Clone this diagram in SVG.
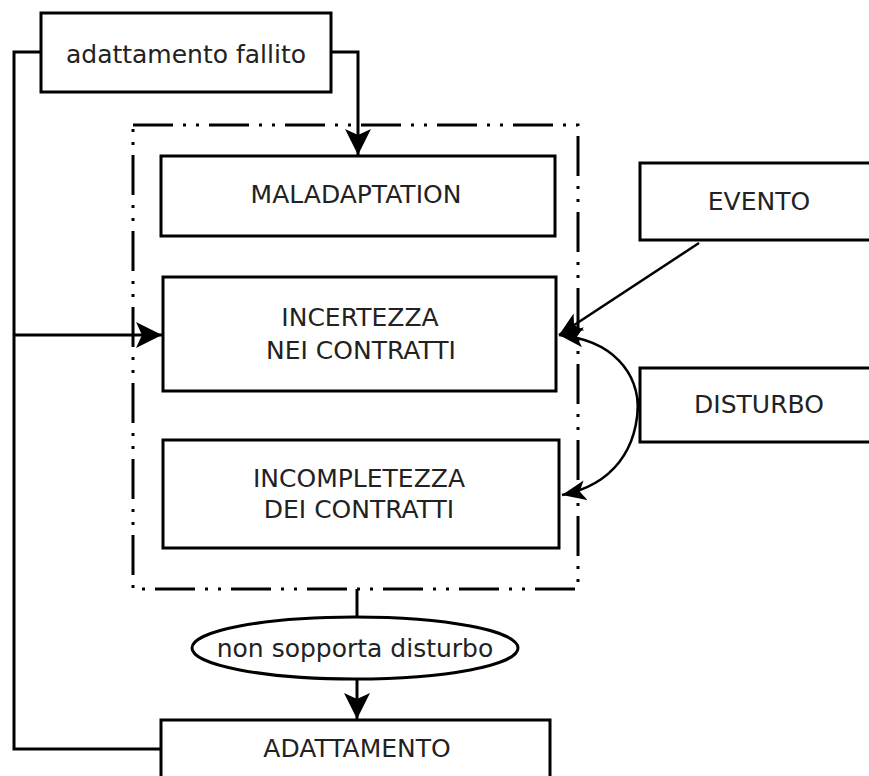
<svg xmlns="http://www.w3.org/2000/svg" width="869" height="776" viewBox="0 0 869 776">
<style>
.box{fill:#fff;stroke:#000;stroke-width:3}
.lbl{font-family:"DejaVu Sans",sans-serif;font-size:25px;fill:#222;text-anchor:middle}
.conn{fill:none;stroke:#000;stroke-width:3}
.thin{fill:none;stroke:#000;stroke-width:2.5}
.frame{fill:none;stroke:#000;stroke-width:3;stroke-dasharray:40 10 3 10 3 10}
</style>
<defs>
<marker id="ah" markerUnits="userSpaceOnUse" markerWidth="28" markerHeight="28" refX="26" refY="13" orient="auto" viewBox="0 0 28 28">
<path d="M0,0 L26,13 L0,26 L6,13 z" fill="#000"/>
</marker>
<marker id="ahs" markerUnits="userSpaceOnUse" markerWidth="26" markerHeight="22" refX="24" refY="10" orient="auto" viewBox="0 0 26 22">
<path d="M0,0 L24,10 L0,20 L6,10 z" fill="#000"/>
</marker>
</defs>
<g id="connectors">
<polyline class="conn" points="41,52 14,52 14,749 161,749"/>
<line class="conn" x1="14" y1="335" x2="162" y2="335" marker-end="url(#ah)"/>
<polyline class="conn" points="331,52 358,52 358,155" marker-end="url(#ah)"/>
<line class="conn" x1="357" y1="589" x2="357" y2="617"/>
<line class="conn" x1="357" y1="680" x2="357" y2="719" marker-end="url(#ah)"/>
<line class="thin" x1="699" y1="243" x2="559" y2="335" marker-end="url(#ahs)"/>
<path class="thin" d="M638,412 C639,372 612,340 559,335" marker-end="url(#ahs)"/>
<path class="thin" d="M638,398 C639,450 612,485 562,495" marker-end="url(#ahs)"/>
</g>
<g id="frame">
<rect class="frame" x="133" y="125" width="445" height="464"/>
</g>
<g id="adattamento-fallito">
<rect class="box" x="41" y="13" width="290" height="79"/>
<text class="lbl" x="186" y="63">adattamento fallito</text>
</g>
<g id="maladaptation">
<rect class="box" x="161" y="156" width="394" height="80"/>
<text class="lbl" x="356" y="203">MALADAPTATION</text>
</g>
<g id="incertezza">
<rect class="box" x="163" y="277" width="393" height="114"/>
<text class="lbl" x="360" y="326">INCERTEZZA</text>
<text class="lbl" x="361" y="359">NEI CONTRATTI</text>
</g>
<g id="incompletezza">
<rect class="box" x="163" y="440" width="396" height="108"/>
<text class="lbl" x="359" y="487">INCOMPLETEZZA</text>
<text class="lbl" x="359" y="518">DEI CONTRATTI</text>
</g>
<g id="evento">
<rect class="box" x="640" y="163" width="240" height="77"/>
<text class="lbl" x="759" y="210">EVENTO</text>
</g>
<g id="disturbo">
<rect class="box" x="640" y="368" width="240" height="74"/>
<text class="lbl" x="759" y="413">DISTURBO</text>
</g>
<g id="non-sopporta-disturbo">
<ellipse class="box" cx="355" cy="648" rx="163" ry="31"/>
<text class="lbl" x="355" y="657">non sopporta disturbo</text>
</g>
<g id="adattamento">
<rect class="box" x="161" y="720" width="389" height="70"/>
<text class="lbl" x="357" y="757">ADATTAMENTO</text>
</g>
</svg>
